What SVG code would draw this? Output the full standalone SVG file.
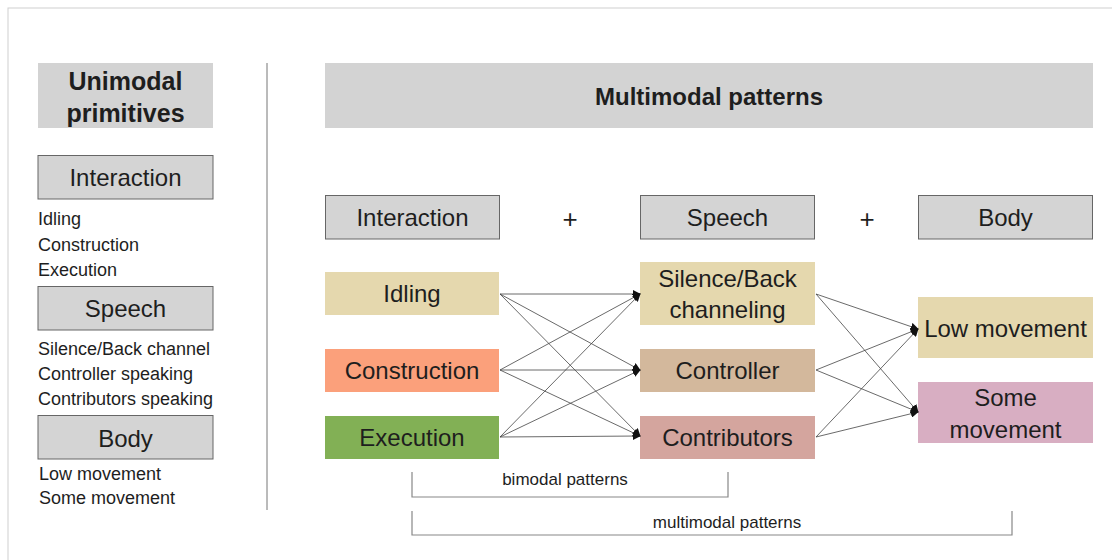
<svg xmlns="http://www.w3.org/2000/svg" width="1112" height="560" viewBox="0 0 1112 560">
<defs>
<style>
text{font-family:"Liberation Sans",Arial,sans-serif;fill:#1e1e1e}
.h{font-weight:bold;font-size:25px;text-anchor:middle}
.n{font-size:24px;text-anchor:middle}
.l{font-size:18px}
.s{font-size:17px;text-anchor:middle}
.cat{fill:#d4d4d4;stroke:#666;stroke-width:1}
.conn line{stroke:#444;stroke-width:0.8;marker-end:url(#ah)}
.br{fill:none;stroke:#888;stroke-width:1.2}
</style>
<marker id="ah" viewBox="0 0 10 10" refX="9" refY="5" markerWidth="8" markerHeight="8" markerUnits="userSpaceOnUse" orient="auto">
<path d="M0,0 L10,5 L0,10 z" fill="#111"/>
</marker>
</defs>
<rect x="0" y="0" width="1112" height="560" fill="#fff"/>
<rect x="8" y="8" width="1200" height="600" fill="none" stroke="#cfcfcf" stroke-width="1"/>
<line x1="267" y1="63" x2="267" y2="510" stroke="#777" stroke-width="1"/>

<g id="unimodal-header">
<rect x="38" y="63" width="175" height="65" fill="#d3d3d3"/>
<text class="h" x="125.5" y="90">Unimodal</text>
<text class="h" x="125.5" y="122">primitives</text>
</g>
<g id="uni-interaction">
<rect class="cat" x="38" y="155.5" width="175" height="43.5"/>
<text class="n" x="125.5" y="186">Interaction</text>
</g>
<g id="uni-interaction-list">
<text class="l" x="38" y="225">Idling</text>
<text class="l" x="38" y="251">Construction</text>
<text class="l" x="38" y="276">Execution</text>
</g>
<g id="uni-speech">
<rect class="cat" x="38" y="286.5" width="175" height="43.5"/>
<text class="n" x="125.5" y="317">Speech</text>
</g>
<g id="uni-speech-list">
<text class="l" x="38" y="355">Silence/Back channel</text>
<text class="l" x="38" y="380">Controller speaking</text>
<text class="l" x="38" y="405">Contributors speaking</text>
</g>
<g id="uni-body">
<rect class="cat" x="38" y="415.5" width="175" height="43.5"/>
<text class="n" x="125.5" y="447">Body</text>
</g>
<g id="uni-body-list">
<text class="l" x="39" y="480">Low movement</text>
<text class="l" x="39" y="504">Some movement</text>
</g>

<g id="multimodal-header">
<rect x="325" y="63" width="768" height="65" fill="#d3d3d3"/>
<text class="h" x="709" y="105" style="font-size:24px">Multimodal patterns</text>
</g>
<g id="cat-interaction">
<rect class="cat" x="325.5" y="195.5" width="174" height="43.5"/>
<text class="n" x="412.5" y="226">Interaction</text>
</g>
<g id="plus1"><text class="n" x="570" y="228" style="font-size:26px">+</text></g>
<g id="cat-speech">
<rect class="cat" x="640.5" y="195.5" width="174" height="43.5"/>
<text class="n" x="727.5" y="226">Speech</text>
</g>
<g id="plus2"><text class="n" x="867" y="228" style="font-size:26px">+</text></g>
<g id="cat-body">
<rect class="cat" x="918.5" y="195.5" width="174" height="43.5"/>
<text class="n" x="1005.5" y="226">Body</text>
</g>

<g id="idling">
<rect x="325" y="272" width="174" height="43" fill="#e5d8ae"/>
<text class="n" x="412" y="302">Idling</text>
</g>
<g id="construction">
<rect x="325" y="349" width="174" height="43" fill="#fba07b"/>
<text class="n" x="412" y="379">Construction</text>
</g>
<g id="execution">
<rect x="325" y="416" width="174" height="43" fill="#82b055"/>
<text class="n" x="412" y="446">Execution</text>
</g>
<g id="silence">
<rect x="640" y="262" width="175" height="63" fill="#e5d8ae"/>
<text class="n" x="727.5" y="287">Silence/Back</text>
<text class="n" x="727.5" y="318">channeling</text>
</g>
<g id="controller">
<rect x="640" y="349" width="175" height="43" fill="#d3b89c"/>
<text class="n" x="727.5" y="379">Controller</text>
</g>
<g id="contributors">
<rect x="640" y="416" width="175" height="43" fill="#d4a59e"/>
<text class="n" x="727.5" y="446">Contributors</text>
</g>
<g id="low-movement">
<rect x="918" y="297" width="175" height="61" fill="#e5d8ae"/>
<text class="n" x="1005.5" y="337">Low movement</text>
</g>
<g id="some-movement">
<rect x="918" y="382" width="175" height="61" fill="#d8aec2"/>
<text class="n" x="1005.5" y="406">Some</text>
<text class="n" x="1005.5" y="438">movement</text>
</g>

<g id="connectors" class="conn">
<line x1="500" y1="294" x2="640" y2="294"/>
<line x1="500" y1="294" x2="640" y2="370"/>
<line x1="500" y1="294" x2="640" y2="436"/>
<line x1="500" y1="370" x2="640" y2="294"/>
<line x1="500" y1="370" x2="640" y2="370"/>
<line x1="500" y1="370" x2="640" y2="436"/>
<line x1="500" y1="437" x2="640" y2="294"/>
<line x1="500" y1="437" x2="640" y2="370"/>
<line x1="500" y1="437" x2="640" y2="436"/>
<line x1="816" y1="294" x2="918" y2="329"/>
<line x1="816" y1="294" x2="918" y2="412"/>
<line x1="816" y1="370" x2="918" y2="329"/>
<line x1="816" y1="370" x2="918" y2="412"/>
<line x1="816" y1="437" x2="918" y2="329"/>
<line x1="816" y1="437" x2="918" y2="412"/>
</g>

<g id="bimodal-bracket">
<path class="br" d="M412,472 V497 H728 V472"/>
<text class="s" x="565" y="485">bimodal patterns</text>
</g>
<g id="multimodal-bracket">
<path class="br" d="M412,511 V535 H1012 V511"/>
<text class="s" x="727" y="528">multimodal patterns</text>
</g>
</svg>
